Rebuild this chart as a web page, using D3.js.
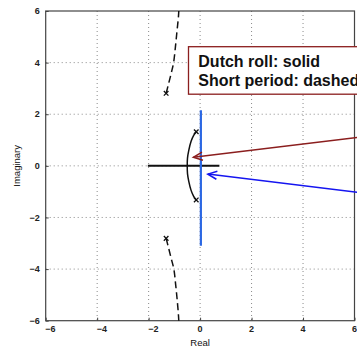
<!DOCTYPE html>
<html lang="en">
<head>
<meta charset="utf-8">
<title>Root locus</title>
<style>
  body { margin: 0; background: #fff; }
  text { font-family: "Liberation Sans", Arial, sans-serif; fill: #111; }
  .tick-lbl { font-size: 9px; font-weight: bold; fill: #222; }
  .grid { stroke: #8a8a8a; stroke-width: 1; stroke-dasharray: 1 3; }
</style>
<script src="https://cdn.jsdelivr.net/npm/d3@7"></script>
</head>
<body>
<svg width="357" height="349"></svg>
<script>
// tick values
const xTicks = [-6, -4, -2, 0, 2, 4, 6];
const yTicks = [-6, -4, -2, 0, 2, 4, 6];

// short period branches (dashed)
const spUpper = [[-1.32, 2.81], [-1.22, 3.2], [-1.12, 3.6], [-1.03, 4.0], [-0.96, 4.6], [-0.9, 5.2], [-0.84, 5.8], [-0.82, 6.2]];
const spLower = [[-1.32, -2.81], [-1.22, -3.2], [-1.12, -3.6], [-1.02, -4.0], [-0.95, -4.6], [-0.89, -5.2], [-0.84, -5.8], [-0.82, -6.2]];

// dutch roll arc (solid)
const drArc = [[-0.15, 1.32], [-0.25, 1.18], [-0.35, 0.95], [-0.44, 0.6], [-0.49, 0.3], [-0.5, 0],
               [-0.49, -0.3], [-0.44, -0.6], [-0.35, -0.95], [-0.25, -1.18], [-0.15, -1.32]];
const realAxisSeg = [[-2.03, 0], [0.75, 0]];
const poles = [[-1.32, 2.81], [-1.32, -2.81], [-0.15, 1.32], [-0.15, -1.32]];

// blue vertical segment
const blueSeg = [[0.03, 2.15], [0.03, -3.1]];

// annotation arrows [from, to]
const redArrow = [[6.3, 1.12], [-0.26, 0.33]];
const blueArrow = [[6.3, -1.05], [0.3, -0.32]];

const legendLines = ["Dutch roll: solid", "Short period: dashed"];

const svg = d3.select("svg");
const x = d3.scaleLinear().domain([-6, 6]).range([45.7, 354.5]);
const y = d3.scaleLinear().domain([-6, 6]).range([320.7, 11]);
const line = d3.line().x(d => x(d[0])).y(d => y(d[1]));
const smooth = d3.line().x(d => x(d[0])).y(d => y(d[1])).curve(d3.curveCatmullRom);

svg.append("defs").append("clipPath").attr("id", "plot")
  .append("rect").attr("x", x(-6)).attr("y", y(6))
  .attr("width", x(6) - x(-6)).attr("height", y(-6) - y(6));

// grid
const g = svg.append("g");
g.selectAll(".gx").data(xTicks.slice(1, -1)).join("line")
  .attr("class", "grid").attr("x1", d => x(d)).attr("x2", d => x(d))
  .attr("y1", y(6)).attr("y2", y(-6));
g.selectAll(".gy").data(yTicks.slice(1, -1)).join("line")
  .attr("class", "grid").attr("y1", d => y(d)).attr("y2", d => y(d))
  .attr("x1", x(-6)).attr("x2", x(6));

// axes with inward ticks
const xAx = svg.append("g").attr("transform", `translate(0,${y(-6)})`)
  .call(d3.axisBottom(x).tickValues(xTicks).tickSize(-3).tickFormat(""));
const yAx = svg.append("g").attr("transform", `translate(${x(-6)},0)`)
  .call(d3.axisLeft(y).tickValues(yTicks).tickSize(-3).tickFormat(""));
[xAx, yAx].forEach(a => { a.select(".domain").remove(); a.selectAll("line").attr("stroke", "#444"); });

svg.append("rect").attr("x", x(-6)).attr("y", y(6))
  .attr("width", x(6) - x(-6)).attr("height", y(-6) - y(6))
  .attr("fill", "none").attr("stroke", "#444").attr("stroke-width", 1.2);

// tick labels
const fmt = d => d < 0 ? "\u2212" + Math.abs(d) : String(d);
svg.selectAll(".xl").data(xTicks).join("text").attr("class", "tick-lbl")
  .attr("x", d => d < 0 ? x(d) - 0.5 : x(d))
  .attr("text-anchor", d => d < 0 ? "start" : "middle")
  .attr("y", y(-6) + 11).text(fmt);
svg.selectAll(".yl").data(yTicks).join("text").attr("class", "tick-lbl")
  .attr("x", x(-6) - 6).attr("y", d => y(d) + 3.2)
  .attr("text-anchor", "end").text(fmt);

svg.append("text").attr("x", x(0)).attr("y", 346).attr("text-anchor", "middle")
  .style("font-size", "9.5px").text("Real");
svg.append("text").attr("transform", `translate(20,${y(0)}) rotate(-90)`)
  .attr("text-anchor", "middle").style("font-size", "9.5px").text("Imaginary");

// curves
const plot = svg.append("g").attr("clip-path", "url(#plot)");
[spUpper, spLower].forEach(b => plot.append("path").attr("d", smooth(b))
  .attr("fill", "none").attr("stroke", "#111").attr("stroke-width", 1.5)
  .attr("stroke-dasharray", "7 4"));
plot.append("path").attr("d", smooth(drArc)).attr("fill", "none")
  .attr("stroke", "#111").attr("stroke-width", 1.5);
plot.append("path").attr("d", line(realAxisSeg)).attr("fill", "none")
  .attr("stroke", "#111").attr("stroke-width", 2);

// pole markers
const s = 2.3;
plot.selectAll(".pole").data(poles).join("path")
  .attr("d", d => `M${x(d[0]) - s},${y(d[1]) - s}L${x(d[0]) + s},${y(d[1]) + s}M${x(d[0]) - s},${y(d[1]) + s}L${x(d[0]) + s},${y(d[1]) - s}`)
  .attr("stroke", "#111").attr("stroke-width", 1.3);

plot.append("path").attr("d", line(blueSeg)).attr("stroke", "#2b67e3").attr("stroke-width", 2.2);

// legend box
const lg = svg.append("g");
lg.append("rect").attr("x", 188.5).attr("y", 46.7).attr("width", 200).attr("height", 47.5)
  .attr("fill", "#fff").attr("stroke", "#8b1e1e").attr("stroke-width", 1.3);
lg.selectAll("text").data(legendLines).join("text")
  .attr("x", 198.3).attr("y", (d, i) => 66.8 + i * 19)
  .style("font-size", "16px").style("font-weight", "bold").text(d => d);

// arrows
function arrow(seg, color) {
  const [p0, p1] = seg;
  const x0 = x(p0[0]), y0 = y(p0[1]), x1 = x(p1[0]), y1 = y(p1[1]);
  const a = Math.atan2(y0 - y1, x0 - x1), L = 10, w = 0.42;
  const h = `M${x1 + L * Math.cos(a + w)},${y1 + L * Math.sin(a + w)}L${x1},${y1}L${x1 + L * Math.cos(a - w)},${y1 + L * Math.sin(a - w)}`;
  svg.append("path").attr("d", `M${x0},${y0}L${x1},${y1}`).attr("stroke", color).attr("stroke-width", 1.5);
  svg.append("path").attr("d", h).attr("fill", "none").attr("stroke", color).attr("stroke-width", 1.5);
}
arrow(redArrow, "#8b1e1e");
arrow(blueArrow, "#1515f0");
</script>
</body>
</html>
